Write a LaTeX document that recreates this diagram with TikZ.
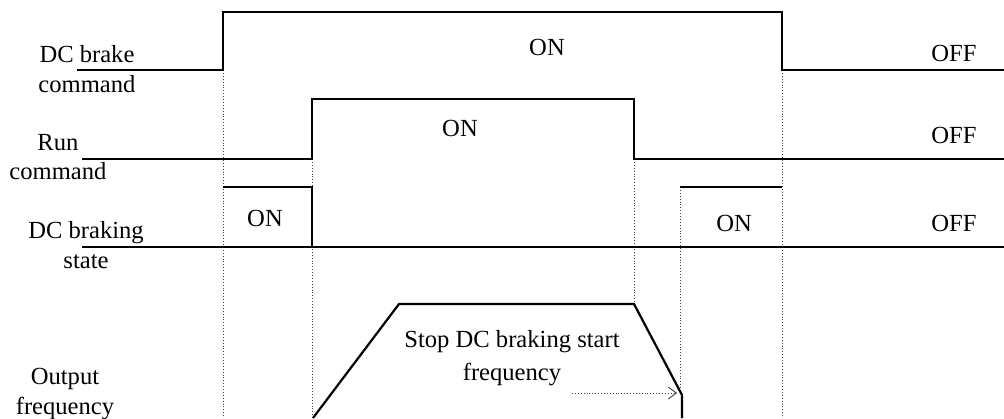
\documentclass[tikz,border=0pt]{standalone}
\usepackage{fontspec}
\setmainfont{Liberation Serif}
\usetikzlibrary{arrows.meta}

\tikzset{
  sig/.style={black,line width=1.1pt},
  guide/.style={black!75,densely dotted,line width=.45pt},
  lbl/.style={inner sep=0pt,align=center,font=\fontsize{12.3}{14.6}\selectfont},
}

\begin{document}
\begin{tikzpicture}[x=.5pt,y=-.5pt]
  \useasboundingbox (0,0) rectangle (1004,418);

  % Dotted guide lines
  \draw[guide] (223,70) -- (223,418);
  \draw[guide] (312,159) -- (312,418);
  \draw[guide] (634,159) -- (634,304);
  \draw[guide] (680,187) -- (680,393);
  \draw[guide] (782,70) -- (782,418);

  % Signal traces
  \draw[sig] (77,70) -- (223,70) -- (223,12) -- (782,12) -- (782,70) -- (1004,70);
  \draw[sig] (82,159) -- (312,159) -- (312,99) -- (634,99) -- (634,159) -- (1004,159);
  \draw[sig] (82,247) -- (1004,247);
  \draw[sig] (223,187) -- (312,187) -- (312,247);
  \draw[sig] (680,187) -- (782,187);
  \draw[sig] (313,418) -- (399,304) -- (634,304) -- (682,395) -- (682,418);

  % Signal names
  \node[lbl] (brakecmd) at (87,69) {DC brake\\command};
  \node[lbl] (runcmd) at (58,157) {Run\\command};
  \node[lbl] (brakestate) at (86,245) {DC braking\\state};
  \node[lbl] (outfreq) at (65,394) {Output\\frequency};

  % States
  \node[lbl] (on1) at (547,47) {ON};
  \node[lbl] (on2) at (460,128) {ON};
  \node[lbl] (on3) at (265,218) {ON};
  \node[lbl] (on4) at (734,223) {ON};
  \node[lbl] (off1) at (954,53) {OFF};
  \node[lbl] (off2) at (954,135) {OFF};
  \node[lbl] (off3) at (954,223) {OFF};

  % Stop frequency note
  \node[lbl,font=\fontsize{12.3}{16.5}\selectfont] (stopfreq) at (512,358) {Stop DC braking start\\frequency};
  \coordinate (arrtail) at (572,393);
  \coordinate (arrtip) at (677,393);
  \draw[guide,-{Straight Barb[length=4pt,width=6pt]}] (arrtail) -- (arrtip);
\end{tikzpicture}
\end{document}
